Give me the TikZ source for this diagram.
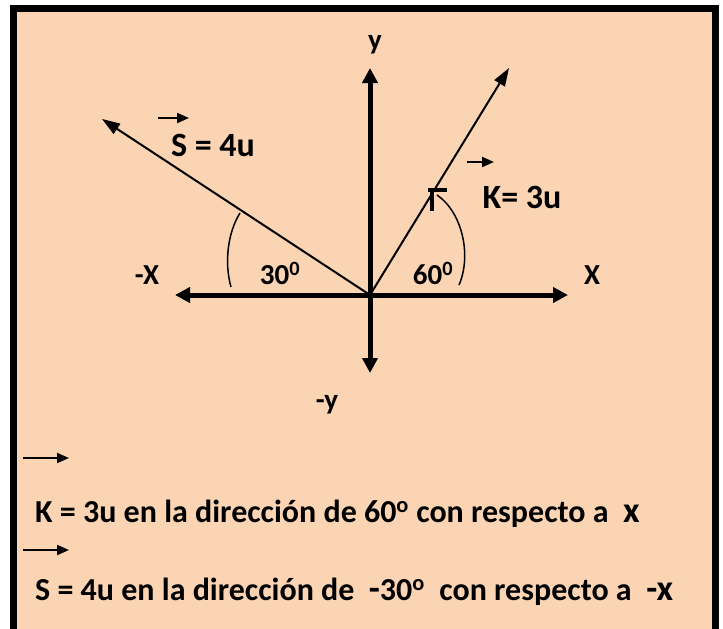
\documentclass[tikz,border=0pt]{standalone}
\usepackage{fontspec}
\setmainfont{Carlito}
\usetikzlibrary{arrows.meta}
\definecolor{peach}{HTML}{FBD4B4}
\begin{document}
\begin{tikzpicture}[x=1pt,y=-1pt,
  axisline/.style={line width=5pt,-{Triangle[length=15pt,width=15pt]}},
  vecline/.style={line width=2pt,-{Triangle[length=18pt,width=12pt]}},
  smallarrow/.style={line width=2pt,-{Triangle[length=12pt,width=10pt]}},
  lbl/.style={inner sep=0pt,font=\fontsize{29}{29}\selectfont\bfseries},
  vlbl/.style={inner sep=0pt,font=\fontsize{34}{34}\selectfont\bfseries},
  btxt/.style={inner sep=0pt,anchor=base west,font=\fontsize{32}{32}\selectfont\bfseries},
  arcline/.style={line width=1.5pt}]
\useasboundingbox (0,0) rectangle (723,629);
\fill[white] (0,0) rectangle (723,629);
\begin{scope}
\clip (0,0) rectangle (723,629);
\draw[line width=7pt, fill=peach] (13,8) rectangle (715,660);
\end{scope}
% axes
\coordinate (O) at (370,295);
\coordinate (xr) at (568,295);
\coordinate (xl) at (175,295);
\coordinate (yt) at (370,68);
\coordinate (yb) at (370,373);
\draw[axisline] (O) -- (xr);
\draw[axisline] (O) -- (xl);
\draw[axisline] (O) -- (yt);
\draw[axisline] (O) -- (yb);
% vectors
\coordinate (Stip) at (102,119);
\coordinate (Ktip) at (509,68);
\draw[vecline] (O) -- (Stip);
\draw[vecline] (O) -- (Ktip);
% arcs
\draw[arcline] (231,287) .. controls (224,262) and (228,232) .. (240,213);
\draw[arcline] (459,285) .. controls (472,255) and (462,212) .. (437,195);
\draw[line width=3.5pt] (428,190) -- (447,190);
\draw[line width=4.5pt] (432,188) -- (432,211);
% labels
\node[lbl] (ly) at (375,45) {y};
\node[lbl] (lmy) at (327,405) {-y};
\node[lbl] (lmx) at (147,275) {-X};
\node[lbl] (lx) at (592,275) {X};
\node[lbl] (a30) at (280,273) {30\textsuperscript{0}};
\node[lbl] (a60) at (433,273) {60\textsuperscript{0}};
\node[vlbl] (Slbl) at (213,145) {S = 4u};
\coordinate (sa1) at (158,118);
\coordinate (sa2) at (189,118);
\draw[smallarrow] (sa1) -- (sa2);
\node[vlbl] (Klbl) at (522,197) {K= 3u};
\coordinate (ka1) at (467,162);
\coordinate (ka2) at (494,162);
\draw[smallarrow] (ka1) -- (ka2);
% bottom
\coordinate (b1a) at (23,458);
\coordinate (b1b) at (69,458);
\draw[smallarrow] (b1a) -- (b1b);
\node[btxt] (t1) at (35,522) {K = 3u en la dirección de 60\textsuperscript{o} con respecto a\ \ {\fontsize{36}{36}\selectfont x}};
\coordinate (b2a) at (23,550);
\coordinate (b2b) at (69,550);
\draw[smallarrow] (b2a) -- (b2b);
\node[btxt] (t2) at (35,600) {S = 4u en la dirección de\ \ {\fontsize{36}{36}\selectfont -}30\textsuperscript{o}\ \ con respecto a\ \ {\fontsize{36}{36}\selectfont -x}};
\end{tikzpicture}
\end{document}
